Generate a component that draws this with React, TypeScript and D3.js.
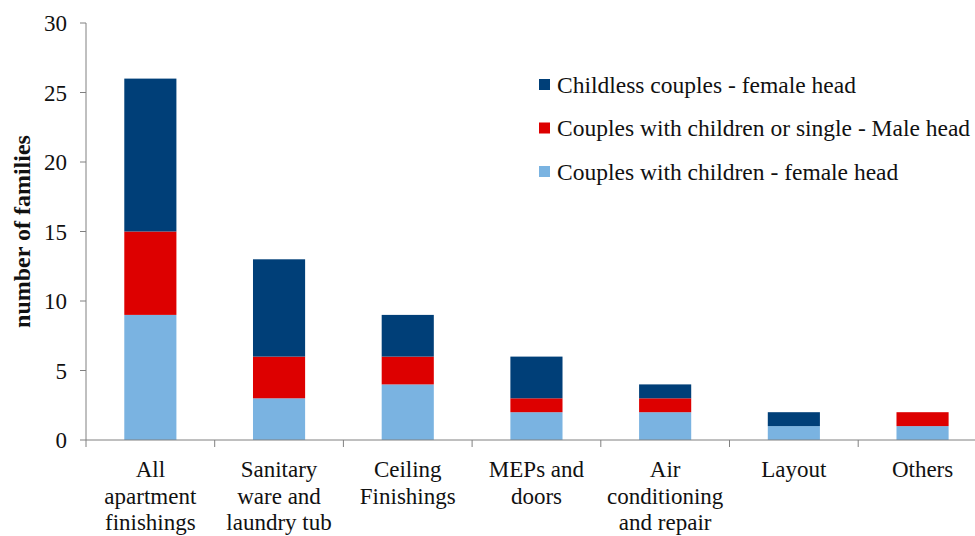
import React, { useEffect, useRef } from 'react';
import * as d3 from 'd3';

// Categories (x axis), with manual line breaks as in the picture
const CATEGORIES = [
  ['All', 'apartment', 'finishings'],
  ['Sanitary', 'ware and', 'laundry tub'],
  ['Ceiling', 'Finishings'],
  ['MEPs and', 'doors'],
  ['Air', 'conditioning', 'and repair'],
  ['Layout'],
  ['Others'],
];

// Series values (bottom to top in the stack)
const COUPLES_CHILDREN_FEMALE = [9, 3, 4, 2, 2, 1, 1];
const COUPLES_OR_SINGLE_MALE = [6, 3, 2, 1, 1, 0, 1];
const CHILDLESS_FEMALE = [11, 7, 3, 3, 1, 1, 0];

const SERIES = [
  { key: 'light', label: 'Couples with children - female head', color: '#7AB3E1', values: COUPLES_CHILDREN_FEMALE },
  { key: 'red', label: 'Couples with children or single - Male head', color: '#DD0000', values: COUPLES_OR_SINGLE_MALE },
  { key: 'dark', label: 'Childless couples - female head', color: '#003F78', values: CHILDLESS_FEMALE },
];

const Y_TICKS = [0, 5, 10, 15, 20, 25, 30];

const WIDTH = 975;
const HEIGHT = 536;
const FONT = "'Liberation Serif', 'DejaVu Serif', serif";

export default function App() {
  const svgRef = useRef<SVGSVGElement>(null);

  useEffect(() => {
    document.body.style.margin = '0';
    if (!svgRef.current) return;
    const svg = d3.select(svgRef.current);
    svg.selectAll('*').remove();

    const x0 = 86;
    const yTop = 23;
    const yBase = 440;

    const xScale = d3.scaleBand<number>()
      .domain(CATEGORIES.map((_, i) => i))
      .range([x0, x0 + 7 * 128.7])
      .padding(0);

    const yScale = d3.scaleLinear().domain([0, 30]).range([yBase, yTop]);

    const barW = xScale.bandwidth() * 0.405;

    // stacked data
    const rows = CATEGORIES.map((_, i) => {
      const r: Record<string, number> = {};
      SERIES.forEach(s => { r[s.key] = s.values[i]; });
      return r;
    });
    const stack = d3.stack<Record<string, number>>().keys(SERIES.map(s => s.key));
    const stacked = stack(rows);

    // Bars
    stacked.forEach((layer, si) => {
      svg.append('g')
        .selectAll('rect')
        .data(layer)
        .enter()
        .append('rect')
        .attr('x', (_, i) => (xScale(i) as number) + xScale.bandwidth() / 2 - barW / 2)
        .attr('y', d => yScale(d[1]))
        .attr('width', barW)
        .attr('height', d => yScale(d[0]) - yScale(d[1]))
        .attr('fill', SERIES[si].color);
    });

    // Y axis
    const axisColor = '#808080';
    svg.append('line')
      .attr('x1', x0).attr('x2', x0)
      .attr('y1', yTop).attr('y2', yBase)
      .attr('stroke', axisColor).attr('stroke-width', 1);

    const yt = svg.append('g');
    Y_TICKS.forEach(t => {
      yt.append('line')
        .attr('x1', x0 - 6).attr('x2', x0)
        .attr('y1', yScale(t)).attr('y2', yScale(t))
        .attr('stroke', axisColor);
      yt.append('text')
        .attr('x', x0 - 19)
        .attr('y', yScale(t))
        .attr('dy', '0.35em')
        .attr('text-anchor', 'end')
        .style('font-size', '23px')
        .attr('fill', '#111')
        .text(String(t));
    });

    // X axis
    svg.append('line')
      .attr('x1', x0).attr('x2', WIDTH)
      .attr('y1', yBase).attr('y2', yBase)
      .attr('stroke', axisColor);

    const xt = svg.append('g');
    CATEGORIES.forEach((lines, i) => {
      const bx = xScale(i) as number;
      xt.append('line')
        .attr('x1', bx).attr('x2', bx)
        .attr('y1', yBase).attr('y2', yBase + 7)
        .attr('stroke', axisColor);
      const t = xt.append('text')
        .attr('x', bx + xScale.bandwidth() / 2)
        .attr('y', 477)
        .attr('text-anchor', 'middle')
        .style('font-size', '23px')
        .attr('fill', '#111');
      lines.forEach((ln, li) => {
        t.append('tspan')
          .attr('x', bx + xScale.bandwidth() / 2)
          .attr('dy', li === 0 ? 0 : 26.5)
          .text(ln);
      });
    });

    // Y axis title
    svg.append('text')
      .attr('transform', `translate(30,${(yTop + yBase) / 2}) rotate(-90)`)
      .attr('text-anchor', 'middle')
      .style('font-size', '24px')
      .style('font-weight', 'bold')
      .attr('fill', '#111')
      .text('number of families');

    // Legend (top to bottom: dark, red, light)
    const legendItems = [...SERIES].reverse();
    const lg = svg.append('g');
    legendItems.forEach((s, i) => {
      const cy = 84.5 + i * 43.5;
      lg.append('rect')
        .attr('x', 539).attr('y', cy - 5.5)
        .attr('width', 11).attr('height', 11)
        .attr('fill', s.color);
      lg.append('text')
        .attr('x', 557)
        .attr('y', cy)
        .attr('dy', '0.35em')
        .style('font-size', '23.5px')
        .attr('fill', '#111')
        .text(s.label);
    });
  }, []);

  return (
    <svg
      ref={svgRef}
      width={WIDTH}
      height={HEIGHT}
      style={{ display: 'block', background: '#fff', fontFamily: FONT }}
    />
  );
}
